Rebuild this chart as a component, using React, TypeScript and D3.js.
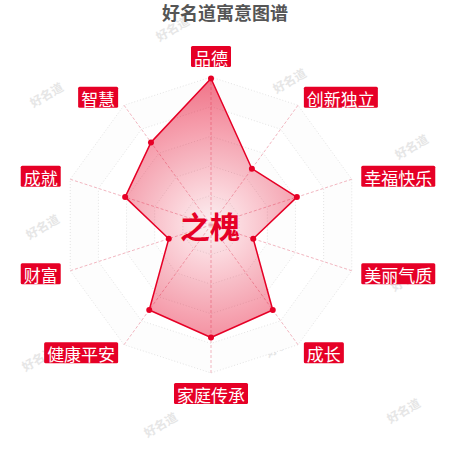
import React, { useEffect, useRef } from 'react'
import * as d3 from 'd3'

// categories clockwise from the top
const categories = ['品德', '创新独立', '幸福快乐', '美丽气质', '成长', '家庭传承', '健康平安', '财富', '成就', '智慧']
const values = [99, 47, 61, 30, 71, 76, 71, 30, 61, 69]
const maxValue = 100
const ringCount = 5
const title = '好名道寓意图谱'
const centerName = '之槐'
const watermark = '好名道'

const RED = '#e60026'
const FONT = '"Noto Sans CJK SC", "Noto Sans", sans-serif'

const RadarChart = (props: IRadarProps) => {
    const ref = useRef<SVGSVGElement>(null)

    useEffect(() => {
        draw()
    })

    const draw = () => {
        const svg = d3.select(ref.current)
        svg.selectAll('*').remove()

        const cx = props.cx
        const cy = props.cy
        const n = categories.length
        const r = d3.scaleLinear().domain([0, maxValue]).range([0, props.radius])
        const angle = (i: number) => (i / n) * Math.PI * 2
        const pt = (i: number, rad: number): [number, number] => [
            cx + Math.sin(angle(i)) * rad,
            cy - Math.cos(angle(i)) * rad,
        ]

        const defs = svg.append('defs')
        const grad = defs
            .append('radialGradient')
            .attr('id', 'areaGrad')
            .attr('gradientUnits', 'userSpaceOnUse')
            .attr('cx', cx)
            .attr('cy', cy)
            .attr('r', props.radius)
        grad.append('stop').attr('offset', '0%').attr('stop-color', RED).attr('stop-opacity', 0.05)
        grad.append('stop').attr('offset', '100%').attr('stop-color', RED).attr('stop-opacity', 0.55)

        // watermarks tiled in the background (only the ones fully on the page)
        const wm = svg.append('g')
        for (let row = 0; row < 7; row++) {
            for (let col = -1; col < 3; col++) {
                const x = (row % 2 === 0 ? 172 : 48) + col * 243 - row * 2
                const y = 28 + row * 66 - col * 14
                if (x < 28 || x > 422 || y < 18 || y > 435) continue
                wm.append('text')
                    .attr('transform', `translate(${x},${y}) rotate(-30)`)
                    .attr('text-anchor', 'middle')
                    .attr('dominant-baseline', 'central')
                    .attr('font-family', FONT)
                    .attr('font-weight', 'bold')
                    .attr('font-size', 12)
                    .attr('fill', '#e6e6e6')
                    .text(watermark)
            }
        }

        // title
        svg.append('text')
            .attr('x', 225)
            .attr('y', 12)
            .attr('text-anchor', 'middle')
            .attr('dominant-baseline', 'central')
            .attr('font-family', FONT)
            .attr('font-weight', 'bold')
            .attr('font-size', 18)
            .attr('fill', '#555')
            .text(title)

        const line = d3.line<[number, number]>().curve(d3.curveLinearClosed)

        // rings
        const ringValues = d3.range(1, ringCount + 1).map((k) => (maxValue / ringCount) * k)
        ringValues
            .slice()
            .reverse()
            .forEach((v, k) => {
                svg.append('path')
                    .attr('d', line(categories.map((_, i) => pt(i, r(v)))))
                    .attr('fill', k % 2 === 0 ? '#fdfdfd' : '#ffffff')
                    .attr('stroke', '#dcdcdc')
                    .attr('stroke-width', 0.8)
                    .attr('stroke-dasharray', '1,2')
            })

        // axis lines
        svg.selectAll('.axis')
            .data(categories)
            .enter()
            .append('line')
            .attr('x1', cx)
            .attr('y1', cy)
            .attr('x2', (_, i) => pt(i, props.radius)[0])
            .attr('y2', (_, i) => pt(i, props.radius)[1])
            .attr('stroke', '#eea3b0')
            .attr('stroke-width', 0.8)
            .attr('stroke-dasharray', '3,2')

        // data area
        const pts = values.map((v, i) => pt(i, r(v)))
        svg.append('path')
            .attr('d', line(pts))
            .attr('fill', 'url(#areaGrad)')
            .attr('stroke', RED)
            .attr('stroke-width', 1.5)
            .attr('stroke-linejoin', 'round')

        svg.selectAll('.dot')
            .data(pts)
            .enter()
            .append('circle')
            .attr('cx', (d) => d[0])
            .attr('cy', (d) => d[1])
            .attr('r', 3)
            .attr('fill', RED)

        // axis names in red boxes
        const fs = 17
        const padX = 3
        const boxH = 21
        categories.forEach((name, i) => {
            const [ax, ay] = pt(i, props.radius + 10)
            const s = Math.sin(angle(i))
            const c = Math.cos(angle(i))
            const w = name.length * fs + padX * 2
            let x0 = ax - w / 2
            if (s > 0.01) x0 = ax
            else if (s < -0.01) x0 = ax - w
            let y0 = ay - boxH / 2
            if (Math.abs(s) < 0.01) y0 = c > 0 ? ay - boxH : ay
            const g = svg.append('g')
            g.append('rect')
                .attr('x', x0)
                .attr('y', y0)
                .attr('width', w)
                .attr('height', boxH)
                .attr('rx', 1.5)
                .attr('fill', RED)
            g.append('text')
                .attr('x', x0 + w / 2)
                .attr('y', y0 + boxH / 2 + 1)
                .attr('text-anchor', 'middle')
                .attr('dominant-baseline', 'central')
                .attr('font-family', FONT)
                .attr('font-size', fs)
                .attr('fill', '#fff')
                .text(name)
        })

        // name in the middle
        svg.append('text')
            .attr('x', cx - 1)
            .attr('y', cy)
            .attr('text-anchor', 'middle')
            .attr('dominant-baseline', 'central')
            .attr('font-family', FONT)
            .attr('font-weight', 'bold')
            .attr('font-size', 30)
            .attr('fill', RED)
            .text(centerName)
    }

    return (
        <svg
            ref={ref}
            width={props.width}
            height={props.height}
            style={{ position: 'fixed', left: 0, top: 0, background: '#fff' }}
        />
    )
}

interface IRadarProps {
    width: number
    height: number
    cx: number
    cy: number
    radius: number
}

export default function App() {
    return <RadarChart width={450} height={450} cx={211} cy={225} radius={148} />
}
